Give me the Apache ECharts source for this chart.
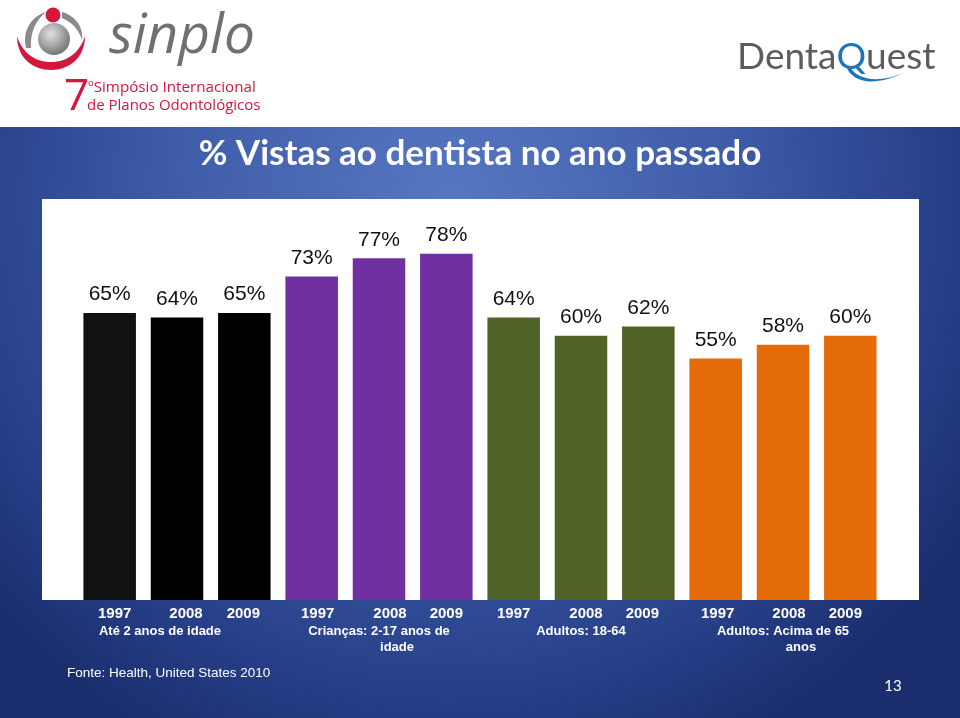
<!DOCTYPE html>
<html><head><meta charset="utf-8">
<script src="https://cdn.jsdelivr.net/npm/echarts@6/dist/echarts.min.js"></script>
<style>html,body{margin:0;padding:0;background:#fff}#c{width:960px;height:718px}</style>
</head><body><div id="c"></div>
<script>
// ---- data ----
const years = ['1997','2008','2009','1997','2008','2009','1997','2008','2009','1997','2008','2009'];
const groups = ['Até 2 anos de idade','Crianças: 2-17 anos de\nidade','Adultos: 18-64','Adultos: Acima de 65\nanos'];
const values = [65,64,65,73,77,78,64,60,62,55,58,60];
const barColors = ['#111111','#000000','#000000','#7030a0','#7030a0','#7030a0','#4f6228','#4f6228','#4f6228','#e36c09','#e36c09','#e36c09'];
const titleText = '% Vistas ao dentista no ano passado';
const sourceText = 'Fonte: Health, United States 2010';
const pageNumber = '13';

// small horizontal nudges of the year labels (text-box layout of the original slide)
const yearShift = [5, 9, -1, 6, 11, 0, 0, 5, -6, 2, 6, -5];

// logo shapes
const shapes = {
  redCres: 'M17,36 C17,58 33,70 51,70 C69,70 85,58 85,36 C80,52 68,62 51,62 C34,62 22,52 17,36 Z',
  grayL: 'M26,48 C22,30 32,16 46,12 C36,20 30,32 31,48 Z',
  grayR: 'M62,12 C76,16 84,28 82,40 C79,30 72,22 62,18 Z',
  swoosh: 'M846,66 C852,82 872,88 906,72 C878,84 858,80 850,67 Z'
};
for (const k in shapes) {
  try { echarts.graphic.registerShape(k, echarts.graphic.extendPath(shapes[k], {})); } catch(e) {}
}

const yearBase = {color:'#fff', fontWeight:'bold', fontSize:15, fontFamily:'Liberation Sans'};
const yearRich = {};
yearShift.forEach((s, i) => {
  yearRich['p' + i] = Object.assign({}, yearBase, {padding: s >= 0 ? [0,0,0,2*s] : [0,-2*s,0,0]});
});
const grpBase = {color:'#fff', fontWeight:'bold', fontSize:13, lineHeight:16, fontFamily:'Liberation Sans'};

const chart = echarts.init(document.getElementById('c'), null, {renderer:'canvas'});
const red = '#d3173d';
const option = {
  backgroundColor: '#ffffff',
  animation: false,
  grid: {left: 76, width: 808, top: 199, height: 401, containLabel: false},
  xAxis: [
    {type:'category', data: years, position:'bottom',
     axisLine:{show:false}, axisTick:{show:false}, splitLine:{show:false},
     axisLabel:Object.assign({interval:0, margin:6, formatter:(v,i)=>'{p' + i + '|' + v + '}', rich:yearRich}, yearBase)},
    {type:'category', data: groups, position:'bottom',
     axisLine:{show:false}, axisTick:{show:false}, splitLine:{show:false},
     axisLabel:Object.assign({interval:0, margin:23,
       formatter: function(v, i){
         const parts = v.split('\n');
         if (parts.length === 1) return i === 0 ? '{l|' + v + '}' : '{a|' + v + '}';
         return '{a|' + parts[0] + '}\n{b|' + parts[1] + '}';
       },
       rich:{
         l:Object.assign({padding:[0,34,0,0]}, grpBase),
         a:Object.assign({}, grpBase),
         b:Object.assign({padding:[0,0,0,36]}, grpBase)
       }}, grpBase)}
  ],
  yAxis: {type:'value', min:2, max:90, show:false, splitLine:{show:false}},
  series: [{
    type:'bar', xAxisIndex:0, barWidth:'78%', clip:true,
    data: values.map((v,i)=>({value:v, itemStyle:{color:barColors[i]}})),
    label:{show:true, position:'top', distance:8, formatter:'{c}%', fontSize:21, color:'#111111', fontFamily:'Liberation Sans'}
  }],
  graphic: [
    {type:'rect', z:-10, shape:{x:0, y:127, width:960, height:591},
     style:{fill:{type:'radial', x:0.47, y:0.12, r:1.05, colorStops:[
       {offset:0, color:'#5877c2'},{offset:0.45, color:'#3e5ca8'},{offset:0.8, color:'#263f88'},{offset:1, color:'#1a2d6c'}]}}},
    {type:'rect', z:-9, shape:{x:42, y:199, width:877, height:401}, style:{fill:'#ffffff'}},
    {type:'text', z:5, x:480, y:154, style:{text:titleText, align:'center', verticalAlign:'middle', fill:'#ffffff', fontSize:35, fontWeight:'bold', fontFamily:'Lato'}},
    {type:'text', z:5, x:67, y:673, style:{text:sourceText, align:'left', verticalAlign:'middle', fill:'#ffffff', fontSize:13.5, fontFamily:'Liberation Sans'}},
    {type:'text', z:5, x:893, y:686, style:{text:pageNumber, align:'center', verticalAlign:'middle', fill:'#ffffff', fontSize:15, fontFamily:'Lato'}},
    {type:'redCres', z:5, style:{fill:red}},
    {type:'grayL', z:5, style:{fill:'#8a8a8a'}},
    {type:'grayR', z:5, style:{fill:'#8a8a8a'}},
    {type:'circle', z:5, shape:{cx:54, cy:39, r:16}, style:{fill:{type:'radial', x:0.4, y:0.35, r:0.7, colorStops:[{offset:0,color:'#e2e2e2'},{offset:1,color:'#6f6f6f'}]}}},
    {type:'circle', z:6, shape:{cx:53, cy:15, r:7.5}, style:{fill:red}},
    {type:'text', z:5, x:109, y:37, style:{text:'sinplo', align:'left', verticalAlign:'middle', fill:'#707070', fontSize:55, fontStyle:'italic', fontFamily:'Open Sans'}},
    {type:'text', z:5, x:64, y:97, style:{text:'7', align:'left', verticalAlign:'middle', fill:red, fontSize:44, fontFamily:'Open Sans'}},
    {type:'text', z:5, x:88, y:88, style:{text:'ºSimpósio Internacional', align:'left', verticalAlign:'middle', fill:red, fontSize:15.2, fontFamily:'Open Sans'}},
    {type:'text', z:5, x:87, y:106, style:{text:'de Planos Odontológicos', align:'left', verticalAlign:'middle', fill:red, fontSize:15, fontFamily:'Open Sans'}},
    {type:'text', z:5, x:737, y:57, style:{text:'{g|Denta}{b|Q}{g|uest}', align:'left', verticalAlign:'middle', fontSize:37, fontFamily:'Lato',
      rich:{g:{fill:'#5b5c5e', fontSize:37, fontFamily:'Lato'}, b:{fill:'#1b75bb', fontSize:37, fontFamily:'Lato'}}}},
    {type:'swoosh', z:5, style:{fill:'#1b75bb'}}
  ]
};
chart.setOption(option);
</script></body></html>
